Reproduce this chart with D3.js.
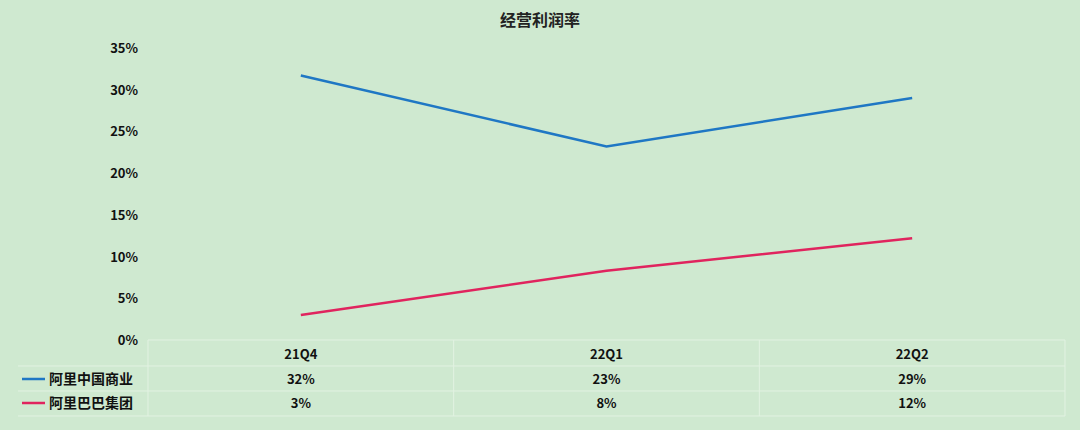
<!DOCTYPE html><html><head><meta charset="utf-8"><script src="https://cdn.jsdelivr.net/npm/d3@7"></script>
<style>body{margin:0;background:#cfe9d0}text{font-family:"Noto Sans CJK SC","Liberation Sans",sans-serif}</style></head><body>
<svg id="c" width="1080" height="430"></svg>
<script>
const categories=["21Q4","22Q1","22Q2"];
const seriesNames=["阿里中国商业","阿里巴巴集团"];
const chinaCommerce=[31.7,23.2,29.0];
const alibabaGroup=[3.0,8.3,12.2];
const tableLabels=[["32%","23%","29%"],["3%","8%","12%"]];
const colors=["#1f77c4","#e0245e"];
const yTicks=[0,5,10,15,20,25,30,35];
const svg=d3.select("#c");
svg.append("rect").attr("width",1080).attr("height",430).attr("fill","#cfe9d0");
const x=d3.scaleBand().domain(categories).range([148,1065]);
const y=d3.scaleLinear().domain([0,35]).range([340,48]);
svg.append("text").attr("x",540).attr("y",26).attr("text-anchor","middle").attr("font-size",16).attr("font-weight","bold").attr("fill","#222").text("经营利润率");
svg.selectAll(".yt").data(yTicks).join("text").attr("x",138).attr("y",d=>y(d)+5).attr("text-anchor","end").attr("font-size",13).attr("font-weight","bold").attr("fill","#111").text(d=>d+"%");
// table grid
const g=svg.append("g").attr("stroke","#e2f2e2").attr("stroke-width",1);
[340,366,391,416].forEach(v=>g.append("line").attr("x1",v===340?148:18).attr("x2",1065).attr("y1",v).attr("y2",v));
[148,...categories.map(c=>x(c)+x.bandwidth())].forEach(v=>g.append("line").attr("x1",v).attr("x2",v).attr("y1",340).attr("y2",416));
svg.selectAll(".xc").data(categories).join("text").attr("x",d=>x(d)+x.bandwidth()/2).attr("y",359).attr("text-anchor","middle").attr("font-size",13).attr("font-weight","bold").attr("fill","#111").text(d=>d);
const line=d3.line().x((d,i)=>x(categories[i])+x.bandwidth()/2).y(d=>y(d));
[chinaCommerce,alibabaGroup].forEach((s,k)=>{
 svg.append("path").attr("d",line(s)).attr("fill","none").attr("stroke",colors[k]).attr("stroke-width",2.5);
 const ry=384+k*24;
 svg.append("line").attr("x1",22).attr("x2",45).attr("y1",ry-5).attr("y2",ry-5).attr("stroke",colors[k]).attr("stroke-width",2.5);
 svg.append("text").attr("x",49).attr("y",ry).attr("font-size",14).attr("font-weight","bold").attr("fill","#111").text(seriesNames[k]);
 svg.selectAll(".v"+k).data(tableLabels[k]).join("text").attr("x",(d,i)=>x(categories[i])+x.bandwidth()/2).attr("y",ry).attr("text-anchor","middle").attr("font-size",13).attr("font-weight","bold").attr("fill","#111").text(d=>d);
});
</script></body></html>
